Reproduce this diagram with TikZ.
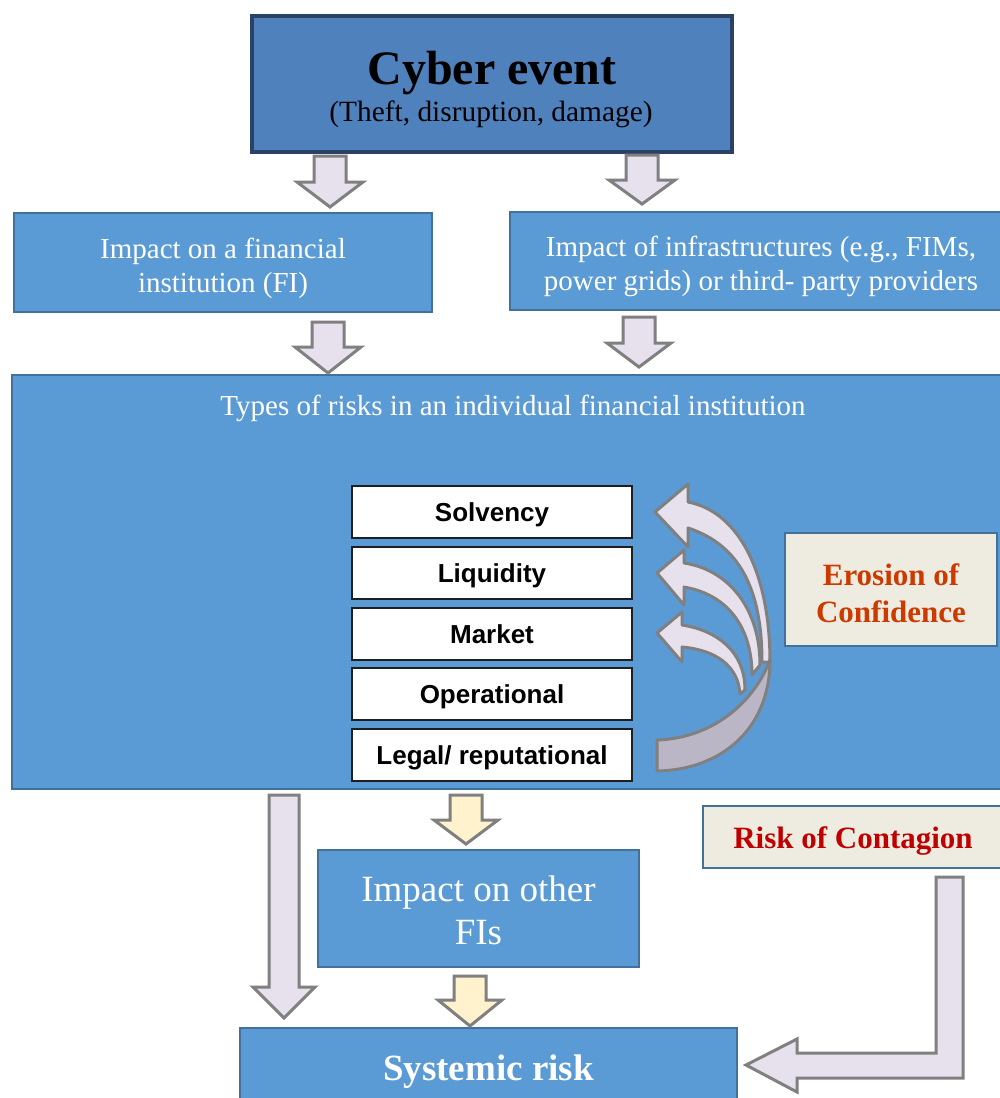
\documentclass[tikz,border=0pt]{standalone}
\usepackage{fontspec}
\setmainfont{Liberation Serif}
\setsansfont{Liberation Sans}

\definecolor{cyberfill}{RGB}{79,129,189}
\definecolor{cyberdraw}{RGB}{42,66,102}
\definecolor{boxfill}{RGB}{91,155,213}
\definecolor{boxdraw}{RGB}{65,113,156}
\definecolor{cream}{RGB}{238,236,225}
\definecolor{lav}{RGB}{230,225,236}
\definecolor{lavdark}{RGB}{187,182,198}
\definecolor{arrowgray}{RGB}{128,128,128}
\definecolor{paleyellow}{RGB}{255,242,204}
\definecolor{erosiontxt}{RGB}{204,58,0}
\definecolor{contagiontxt}{RGB}{192,0,0}
\definecolor{riskdraw}{RGB}{30,30,30}

\newcommand{\fsz}[2]{\fontsize{#1}{#2}\selectfont}

% vertical block arrow: centre x, top, head start, tip, shaft half width, head half width
\newcommand{\blockdown}[7][]{%
  \draw[blockarrow,#1] (#2-#6,#3) -- (#2+#6,#3) -- (#2+#6,#4) -- (#2+#7,#4)
    -- (#2,#5) -- (#2-#7,#4) -- (#2-#6,#4) -- cycle;}

\begin{document}
\begin{tikzpicture}[x=1pt,y=-1pt,
  bluebox/.style={draw=boxdraw, line width=2.5pt, fill=boxfill, inner sep=0pt},
  creambox/.style={draw=boxdraw, line width=2.5pt, fill=cream, inner sep=0pt},
  boxtext/.style={text=white, align=center, inner sep=0pt},
  creamtext/.style={align=center, inner sep=0pt, font=\bfseries\fsz{31}{37}},
  riskbox/.style={draw=riskdraw, line width=2pt, fill=white,
    minimum width=280pt, minimum height=52pt, inner sep=0pt,
    text height=19pt, text depth=0pt,
    font=\sffamily\bfseries\fsz{26}{30}},
  blockarrow/.style={draw=arrowgray, line width=3pt, fill=lav, line join=miter},
  curvedarrow/.style={draw=arrowgray, line width=3pt, fill=lav, line join=round},
]
\useasboundingbox (0,0) rectangle (1000,1098);
\fill[white] (0,0) rectangle (1000,1098);
\clip (0,0) rectangle (1000,1098);

% top event
\node[bluebox, fill=cyberfill, draw=cyberdraw, line width=4pt,
      minimum width=480pt, minimum height=136pt] (cyber) at (492,84) {};
\node[anchor=base, font=\bfseries\fsz{48}{52}] (cybertitle) at (492,84) {Cyber event};
\node[anchor=base, font=\fsz{29.4}{34}] (cybersub) at (491,121) {(Theft, disruption, damage)};

% first level of impact
\node[bluebox, minimum width=418pt, minimum height=99pt] (fi) at (223,262.5) {};
\node[boxtext, font=\fsz{29}{34}] (fitext) at (223,268)
  {Impact on a financial\\institution (FI)};
\node[bluebox, minimum width=502pt, minimum height=98pt] (infra) at (761,261) {};
\node[boxtext, font=\fsz{29}{34}] (infratext) at (761,266)
  {Impact of infrastructures (e.g., FIMs,\\power grids) or third- party providers};

% risk types of one institution
\node[bluebox, minimum width=1002pt, minimum height=414pt] (types) at (513,582) {};
\node[anchor=base, text=white, font=\fsz{29}{34}] (typestitle) at (513,415)
  {Types of risks in an individual financial institution};

\node[riskbox] (solv) at (492,512) {Solvency};
\node[riskbox] (liq)  at (492,573) {Liquidity};
\node[riskbox] (mkt)  at (492,634) {Market};
\node[riskbox] (ops)  at (492,694) {Operational};
\node[riskbox] (legal) at (492,755) {Legal/ reputational};

\node[creambox, minimum width=212pt, minimum height=113pt] (erosion) at (891,589.5) {};
\node[creamtext, text=erosiontxt] (erosiontext) at (891,593) {Erosion of\\Confidence};

% curved feedback arrows towards the risk boxes
\draw[curvedarrow] (657,633) -- (682,612) -- (682,625)
  .. controls (715,630) and (745,650) .. (745,690) -- (740,694)
  .. controls (738,665) and (715,650) .. (682,647) -- (682,662) -- cycle;
\draw[curvedarrow] (657,573) -- (684,550) -- (684,563)
  .. controls (730,570) and (760,610) .. (760,665) -- (752,675)
  .. controls (752,630) and (730,595) .. (684,587) -- (684,605) -- cycle;
\draw[curvedarrow] (655,512) -- (688,484) -- (688,502)
  .. controls (740,512) and (770,575) .. (770,662) -- (762,662)
  .. controls (762,590) and (740,545) .. (688,528) -- (688,547) -- cycle;
\draw[curvedarrow, fill=lavdark] (657,771)
  .. controls (720,770) and (770,730) .. (770,660)
  .. controls (755,700) and (715,738) .. (657,740) -- cycle;

% lower part
\node[creambox, minimum width=300pt, minimum height=62pt] (contagion) at (853,837) {};
\node[creamtext, text=contagiontxt] (contagiontext) at (853,841) {Risk of Contagion};
\node[bluebox, minimum width=321pt, minimum height=117pt] (others) at (478.5,908.5) {};
\node[boxtext, font=\fsz{37}{43}] (otherstext) at (478.5,910.5) {Impact on other\\FIs};
\node[bluebox, minimum width=497pt, minimum height=80pt] (systemic) at (488.5,1068) {};
\node[boxtext, font=\bfseries\fsz{37}{43}] (systemictext) at (488.5,1072) {Systemic risk};

% block arrows
\blockdown{330}{156}{182}{207}{16}{33}
\blockdown{642}{155}{180}{204}{16}{33}
\blockdown{328}{322}{347}{373}{16}{33}
\blockdown{639}{317}{343}{367}{16}{32}
\blockdown{284}{795}{987}{1018}{15}{31}
\blockdown[fill=paleyellow]{466}{795}{820}{844}{16}{32}
\blockdown[fill=paleyellow]{470}{976}{1000}{1026}{16}{32}

% contagion elbow arrow into systemic risk
\draw[blockarrow] (936,877) -- (963,877) -- (963,1078) -- (797,1078) -- (797,1092)
  -- (746,1065) -- (797,1039) -- (797,1053) -- (936,1053) -- cycle;
\end{tikzpicture}
\end{document}
